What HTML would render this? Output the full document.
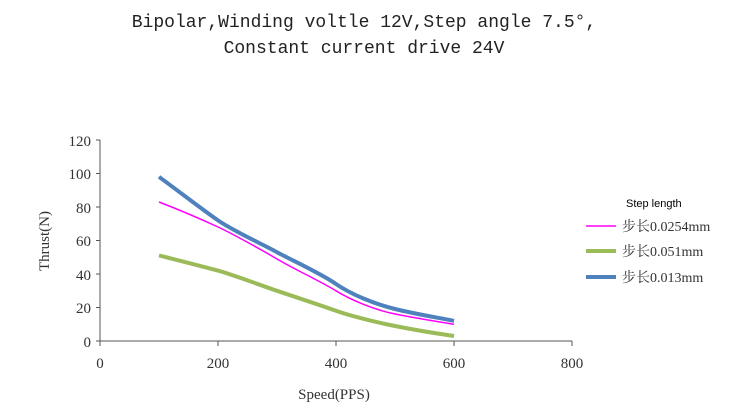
<!DOCTYPE html>
<html><head><meta charset="utf-8"><style>
body{margin:0;background:#fff;width:750px;height:413px;overflow:hidden}
svg text{font-family:"Liberation Serif","Noto Serif CJK SC",serif;fill:#333}
</style></head><body>
<svg width="750" height="413" viewBox="0 0 750 413">
<text x="364" y="27" text-anchor="middle" style="font-family:'Liberation Mono','Noto Sans CJK SC',monospace;font-size:18px;fill:#222">Bipolar,Winding voltle 12V,Step angle 7.5°,</text>
<text x="364" y="53" text-anchor="middle" style="font-family:'Liberation Mono','Noto Sans CJK SC',monospace;font-size:18px;fill:#222">Constant current drive 24V</text>
<g stroke="#555" stroke-width="1" fill="none">
<line x1="100" y1="140" x2="100" y2="341"/>
<line x1="100" y1="341" x2="572" y2="341"/>
<line x1="96" y1="140" x2="100" y2="140"/><line x1="96" y1="173.5" x2="100" y2="173.5"/><line x1="96" y1="207" x2="100" y2="207"/><line x1="96" y1="240.5" x2="100" y2="240.5"/><line x1="96" y1="274" x2="100" y2="274"/><line x1="96" y1="307.5" x2="100" y2="307.5"/><line x1="96" y1="341" x2="100" y2="341"/>
<line x1="100" y1="341" x2="100" y2="346"/><line x1="218" y1="341" x2="218" y2="346"/><line x1="336" y1="341" x2="336" y2="346"/><line x1="454" y1="341" x2="454" y2="346"/><line x1="572" y1="341" x2="572" y2="346"/>
</g>
<g font-size="15" text-anchor="end">
<text x="91" y="146">120</text><text x="91" y="179">100</text><text x="91" y="213">80</text><text x="91" y="246">60</text><text x="91" y="280">40</text><text x="91" y="313">20</text><text x="91" y="347">0</text>
</g>
<g font-size="15" text-anchor="middle">
<text x="100" y="368">0</text><text x="218" y="368">200</text><text x="336" y="368">400</text><text x="454" y="368">600</text><text x="572" y="368">800</text>
<text x="334" y="399">Speed(PPS)</text>
<text transform="translate(49,241) rotate(-90)">Thrust(N)</text>
</g>
<g fill="none" stroke-linecap="butt" stroke-linejoin="round">
<path d="M159,255.4 C185,262 205,267 218,270.6 S260,285 277,290.8 S320,305 336,310.8 S380,323 395,326 S440,334 454,336" stroke="#9bbb59" stroke-width="4"/>
<path d="M159,202 C185,212 205,221 218,227 S262,250 277,259 S320,281 336,290.8 S375,310 395,314 S440,322 454,324.3" stroke="#ff00ff" stroke-width="1.5"/>
<path d="M159,176.8 C185,196 203,210 218,220.4 S262,244 277,252.2 S320,273 336,284 S375,304 395,309 S440,318 454,320.9" stroke="#4f81bd" stroke-width="4"/>
</g>
<text x="626" y="207" style="font-family:'Liberation Sans',sans-serif;font-size:11px;fill:#000">Step length</text>
<line x1="586" y1="226" x2="616" y2="226" stroke="#ff00ff" stroke-width="1.5"/>
<line x1="586" y1="251" x2="616" y2="251" stroke="#9bbb59" stroke-width="4"/>
<line x1="586" y1="277" x2="616" y2="277" stroke="#4f81bd" stroke-width="4"/>
<g font-size="14" style="font-family:'Noto Serif CJK SC','Liberation Mono',serif">
<text x="622" y="231">步长0.0254mm</text>
<text x="622" y="256">步长0.051mm</text>
<text x="622" y="282">步长0.013mm</text>
</g>
</svg>
</body></html>
